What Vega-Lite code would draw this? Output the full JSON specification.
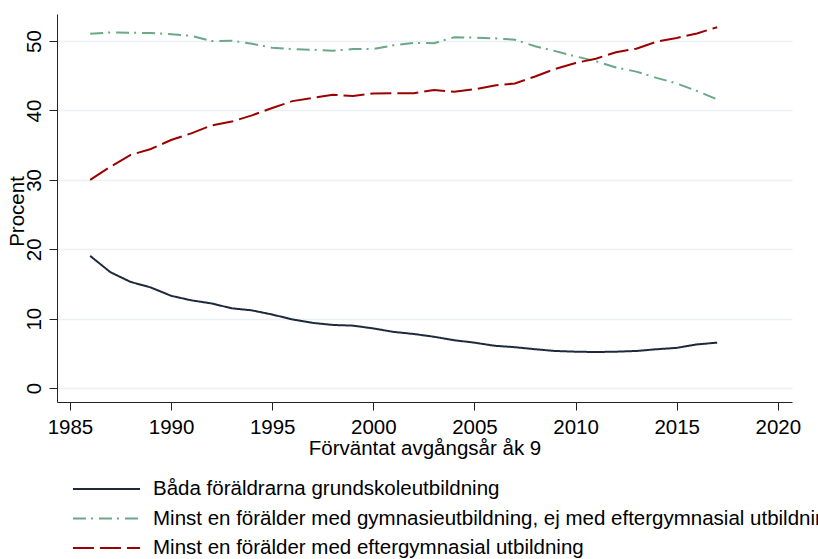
{
  "$schema": "https://vega.github.io/schema/vega-lite/v6.json",
  "width": 735,
  "height": 388,
  "autosize": "none",
  "padding": {"left": 57, "top": 14, "right": 26, "bottom": 157},
  "background": "white",
  "config": {
    "font": "Liberation Sans",
    "view": {"stroke": null}
  },
  "datasets": {
    "d": [
      {"serie": "Båda föräldrarna grundskoleutbildning", "ar": 1986, "procent": 19.05},
      {"serie": "Båda föräldrarna grundskoleutbildning", "ar": 1987, "procent": 16.7},
      {"serie": "Båda föräldrarna grundskoleutbildning", "ar": 1988, "procent": 15.3},
      {"serie": "Båda föräldrarna grundskoleutbildning", "ar": 1989, "procent": 14.5},
      {"serie": "Båda föräldrarna grundskoleutbildning", "ar": 1990, "procent": 13.3},
      {"serie": "Båda föräldrarna grundskoleutbildning", "ar": 1991, "procent": 12.65},
      {"serie": "Båda föräldrarna grundskoleutbildning", "ar": 1992, "procent": 12.2},
      {"serie": "Båda föräldrarna grundskoleutbildning", "ar": 1993, "procent": 11.5},
      {"serie": "Båda föräldrarna grundskoleutbildning", "ar": 1994, "procent": 11.2},
      {"serie": "Båda föräldrarna grundskoleutbildning", "ar": 1995, "procent": 10.6},
      {"serie": "Båda föräldrarna grundskoleutbildning", "ar": 1996, "procent": 9.9},
      {"serie": "Båda föräldrarna grundskoleutbildning", "ar": 1997, "procent": 9.4},
      {"serie": "Båda föräldrarna grundskoleutbildning", "ar": 1998, "procent": 9.1},
      {"serie": "Båda föräldrarna grundskoleutbildning", "ar": 1999, "procent": 9.0},
      {"serie": "Båda föräldrarna grundskoleutbildning", "ar": 2000, "procent": 8.6},
      {"serie": "Båda föräldrarna grundskoleutbildning", "ar": 2001, "procent": 8.1},
      {"serie": "Båda föräldrarna grundskoleutbildning", "ar": 2002, "procent": 7.8},
      {"serie": "Båda föräldrarna grundskoleutbildning", "ar": 2003, "procent": 7.4},
      {"serie": "Båda föräldrarna grundskoleutbildning", "ar": 2004, "procent": 6.9},
      {"serie": "Båda föräldrarna grundskoleutbildning", "ar": 2005, "procent": 6.55},
      {"serie": "Båda föräldrarna grundskoleutbildning", "ar": 2006, "procent": 6.1},
      {"serie": "Båda föräldrarna grundskoleutbildning", "ar": 2007, "procent": 5.9},
      {"serie": "Båda föräldrarna grundskoleutbildning", "ar": 2008, "procent": 5.6},
      {"serie": "Båda föräldrarna grundskoleutbildning", "ar": 2009, "procent": 5.35},
      {"serie": "Båda föräldrarna grundskoleutbildning", "ar": 2010, "procent": 5.25},
      {"serie": "Båda föräldrarna grundskoleutbildning", "ar": 2011, "procent": 5.2},
      {"serie": "Båda föräldrarna grundskoleutbildning", "ar": 2012, "procent": 5.25},
      {"serie": "Båda föräldrarna grundskoleutbildning", "ar": 2013, "procent": 5.35},
      {"serie": "Båda föräldrarna grundskoleutbildning", "ar": 2014, "procent": 5.6},
      {"serie": "Båda föräldrarna grundskoleutbildning", "ar": 2015, "procent": 5.8},
      {"serie": "Båda föräldrarna grundskoleutbildning", "ar": 2016, "procent": 6.3},
      {"serie": "Båda föräldrarna grundskoleutbildning", "ar": 2017, "procent": 6.55},
      {"serie": "Minst en förälder med gymnasieutbildning, ej med eftergymnasial utbildning", "ar": 1986, "procent": 51.05},
      {"serie": "Minst en förälder med gymnasieutbildning, ej med eftergymnasial utbildning", "ar": 1987, "procent": 51.25},
      {"serie": "Minst en förälder med gymnasieutbildning, ej med eftergymnasial utbildning", "ar": 1988, "procent": 51.2},
      {"serie": "Minst en förälder med gymnasieutbildning, ej med eftergymnasial utbildning", "ar": 1989, "procent": 51.15},
      {"serie": "Minst en förälder med gymnasieutbildning, ej med eftergymnasial utbildning", "ar": 1990, "procent": 51.0},
      {"serie": "Minst en förälder med gymnasieutbildning, ej med eftergymnasial utbildning", "ar": 1991, "procent": 50.75},
      {"serie": "Minst en förälder med gymnasieutbildning, ej med eftergymnasial utbildning", "ar": 1992, "procent": 50.0},
      {"serie": "Minst en förälder med gymnasieutbildning, ej med eftergymnasial utbildning", "ar": 1993, "procent": 50.05},
      {"serie": "Minst en förälder med gymnasieutbildning, ej med eftergymnasial utbildning", "ar": 1994, "procent": 49.6},
      {"serie": "Minst en förälder med gymnasieutbildning, ej med eftergymnasial utbildning", "ar": 1995, "procent": 49.05},
      {"serie": "Minst en förälder med gymnasieutbildning, ej med eftergymnasial utbildning", "ar": 1996, "procent": 48.85},
      {"serie": "Minst en förälder med gymnasieutbildning, ej med eftergymnasial utbildning", "ar": 1997, "procent": 48.75},
      {"serie": "Minst en förälder med gymnasieutbildning, ej med eftergymnasial utbildning", "ar": 1998, "procent": 48.6},
      {"serie": "Minst en förälder med gymnasieutbildning, ej med eftergymnasial utbildning", "ar": 1999, "procent": 48.85},
      {"serie": "Minst en förälder med gymnasieutbildning, ej med eftergymnasial utbildning", "ar": 2000, "procent": 48.85},
      {"serie": "Minst en förälder med gymnasieutbildning, ej med eftergymnasial utbildning", "ar": 2001, "procent": 49.4},
      {"serie": "Minst en förälder med gymnasieutbildning, ej med eftergymnasial utbildning", "ar": 2002, "procent": 49.75},
      {"serie": "Minst en förälder med gymnasieutbildning, ej med eftergymnasial utbildning", "ar": 2003, "procent": 49.7},
      {"serie": "Minst en förälder med gymnasieutbildning, ej med eftergymnasial utbildning", "ar": 2004, "procent": 50.55},
      {"serie": "Minst en förälder med gymnasieutbildning, ej med eftergymnasial utbildning", "ar": 2005, "procent": 50.5},
      {"serie": "Minst en förälder med gymnasieutbildning, ej med eftergymnasial utbildning", "ar": 2006, "procent": 50.4},
      {"serie": "Minst en förälder med gymnasieutbildning, ej med eftergymnasial utbildning", "ar": 2007, "procent": 50.2},
      {"serie": "Minst en förälder med gymnasieutbildning, ej med eftergymnasial utbildning", "ar": 2008, "procent": 49.25},
      {"serie": "Minst en förälder med gymnasieutbildning, ej med eftergymnasial utbildning", "ar": 2009, "procent": 48.55},
      {"serie": "Minst en förälder med gymnasieutbildning, ej med eftergymnasial utbildning", "ar": 2010, "procent": 47.8},
      {"serie": "Minst en förälder med gymnasieutbildning, ej med eftergymnasial utbildning", "ar": 2011, "procent": 47.1},
      {"serie": "Minst en förälder med gymnasieutbildning, ej med eftergymnasial utbildning", "ar": 2012, "procent": 46.2},
      {"serie": "Minst en förälder med gymnasieutbildning, ej med eftergymnasial utbildning", "ar": 2013, "procent": 45.6},
      {"serie": "Minst en förälder med gymnasieutbildning, ej med eftergymnasial utbildning", "ar": 2014, "procent": 44.7},
      {"serie": "Minst en förälder med gymnasieutbildning, ej med eftergymnasial utbildning", "ar": 2015, "procent": 43.9},
      {"serie": "Minst en förälder med gymnasieutbildning, ej med eftergymnasial utbildning", "ar": 2016, "procent": 42.8},
      {"serie": "Minst en förälder med gymnasieutbildning, ej med eftergymnasial utbildning", "ar": 2017, "procent": 41.6},
      {"serie": "Minst en förälder med eftergymnasial utbildning", "ar": 1986, "procent": 30.0},
      {"serie": "Minst en förälder med eftergymnasial utbildning", "ar": 1987, "procent": 31.9},
      {"serie": "Minst en förälder med eftergymnasial utbildning", "ar": 1988, "procent": 33.6},
      {"serie": "Minst en förälder med eftergymnasial utbildning", "ar": 1989, "procent": 34.45},
      {"serie": "Minst en förälder med eftergymnasial utbildning", "ar": 1990, "procent": 35.75},
      {"serie": "Minst en förälder med eftergymnasial utbildning", "ar": 1991, "procent": 36.7},
      {"serie": "Minst en förälder med eftergymnasial utbildning", "ar": 1992, "procent": 37.85},
      {"serie": "Minst en förälder med eftergymnasial utbildning", "ar": 1993, "procent": 38.4},
      {"serie": "Minst en förälder med eftergymnasial utbildning", "ar": 1994, "procent": 39.3},
      {"serie": "Minst en förälder med eftergymnasial utbildning", "ar": 1995, "procent": 40.35},
      {"serie": "Minst en förälder med eftergymnasial utbildning", "ar": 1996, "procent": 41.35},
      {"serie": "Minst en förälder med eftergymnasial utbildning", "ar": 1997, "procent": 41.8},
      {"serie": "Minst en förälder med eftergymnasial utbildning", "ar": 1998, "procent": 42.25},
      {"serie": "Minst en förälder med eftergymnasial utbildning", "ar": 1999, "procent": 42.1},
      {"serie": "Minst en förälder med eftergymnasial utbildning", "ar": 2000, "procent": 42.45},
      {"serie": "Minst en förälder med eftergymnasial utbildning", "ar": 2001, "procent": 42.5},
      {"serie": "Minst en förälder med eftergymnasial utbildning", "ar": 2002, "procent": 42.5},
      {"serie": "Minst en förälder med eftergymnasial utbildning", "ar": 2003, "procent": 42.95},
      {"serie": "Minst en förälder med eftergymnasial utbildning", "ar": 2004, "procent": 42.7},
      {"serie": "Minst en förälder med eftergymnasial utbildning", "ar": 2005, "procent": 43.05},
      {"serie": "Minst en förälder med eftergymnasial utbildning", "ar": 2006, "procent": 43.6},
      {"serie": "Minst en förälder med eftergymnasial utbildning", "ar": 2007, "procent": 43.9},
      {"serie": "Minst en förälder med eftergymnasial utbildning", "ar": 2008, "procent": 44.9},
      {"serie": "Minst en förälder med eftergymnasial utbildning", "ar": 2009, "procent": 46.0},
      {"serie": "Minst en förälder med eftergymnasial utbildning", "ar": 2010, "procent": 46.85},
      {"serie": "Minst en förälder med eftergymnasial utbildning", "ar": 2011, "procent": 47.45},
      {"serie": "Minst en förälder med eftergymnasial utbildning", "ar": 2012, "procent": 48.4},
      {"serie": "Minst en förälder med eftergymnasial utbildning", "ar": 2013, "procent": 48.9},
      {"serie": "Minst en förälder med eftergymnasial utbildning", "ar": 2014, "procent": 49.9},
      {"serie": "Minst en förälder med eftergymnasial utbildning", "ar": 2015, "procent": 50.45},
      {"serie": "Minst en förälder med eftergymnasial utbildning", "ar": 2016, "procent": 51.1},
      {"serie": "Minst en förälder med eftergymnasial utbildning", "ar": 2017, "procent": 52.0}
    ]
  },
  "data": {"name": "d"},
  "mark": {"type": "line", "strokeWidth": 2, "interpolate": "linear"},
  "encoding": {
    "x": {
      "field": "ar",
      "type": "quantitative",
      "scale": {"domain": [1984.36, 2020.7], "nice": false, "zero": false},
      "axis": {
        "title": "Förväntat avgångsår åk 9",
        "values": [1985, 1990, 1995, 2000, 2005, 2010, 2015, 2020],
        "format": "d",
        "grid": false,
        "domainColor": "#222222",
        "domainWidth": 1,
        "tickColor": "#222222",
        "tickSize": 8,
        "tickWidth": 1,
        "labelFontSize": 20.5,
        "labelColor": "#000000",
        "labelBaseline": "alphabetic",
        "labelPadding": 23,
        "labelFlush": false,
        "titleFontSize": 20.5,
        "titleFontWeight": "normal",
        "titleColor": "#000000",
        "titleBaseline": "alphabetic",
        "titleY": 52
      }
    },
    "y": {
      "field": "procent",
      "type": "quantitative",
      "scale": {"domain": [-2, 53.9], "nice": false, "zero": false},
      "axis": {
        "title": "Procent",
        "values": [0, 10, 20, 30, 40, 50],
        "grid": true,
        "gridColor": "#eaf0f3",
        "gridWidth": 1.5,
        "domainColor": "#222222",
        "domainWidth": 1,
        "tickColor": "#222222",
        "tickSize": 8,
        "tickWidth": 1,
        "labelFontSize": 20.5,
        "labelColor": "#000000",
        "labelAngle": -90,
        "labelAlign": "center",
        "labelBaseline": "alphabetic",
        "labelPadding": 9,
        "labelFlush": false,
        "titleFontSize": 20.5,
        "titleFontWeight": "normal",
        "titleColor": "#000000",
        "titleAngle": -90,
        "titleAlign": "center",
        "titleBaseline": "alphabetic",
        "titleX": -34,
        "titleY": 197
      }
    },
    "color": {
      "field": "serie",
      "type": "nominal",
      "scale": {
        "domain": ["Båda föräldrarna grundskoleutbildning", "Minst en förälder med gymnasieutbildning, ej med eftergymnasial utbildning", "Minst en förälder med eftergymnasial utbildning"],
        "range": ["#1e2a3c", "#6aa887", "#9b0000"]
      },
      "legend": {
        "title": null,
        "orient": "none",
        "legendX": 37.5,
        "legendY": 463,
        "direction": "vertical",
        "symbolType": "M-3.05,0H3.05",
        "symbolSize": 484,
        "symbolStrokeWidth": 2,
        "labelFontSize": 20.5,
        "labelColor": "#000000",
        "labelLimit": 0,
        "labelOffset": 34.5,
        "rowPadding": 6.5,
        "padding": 0
      }
    },
    "strokeDash": {
      "field": "serie",
      "type": "nominal",
      "scale": {
        "domain": ["Båda föräldrarna grundskoleutbildning", "Minst en förälder med gymnasieutbildning, ej med eftergymnasial utbildning", "Minst en förälder med eftergymnasial utbildning"],
        "range": [[1, 0], [13, 5, 2, 6], [21, 6]]
      },
      "legend": null
    }
  }
}
